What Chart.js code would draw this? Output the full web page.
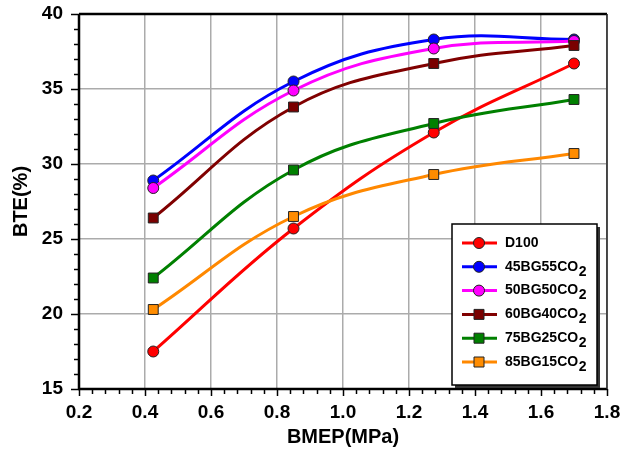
<!DOCTYPE html>
<html>
<head>
<meta charset="utf-8">
<script src="https://cdn.jsdelivr.net/npm/chart.js@4.4.1/dist/chart.umd.min.js"></script>
<style>
  html, body { margin: 0; padding: 0; background: #fff; }
  #wrap { width: 622px; height: 456px; }
</style>
</head>
<body>
<div id="wrap"><canvas id="bte-chart" width="622" height="456"></canvas></div>
<script>
// BMEP load points (MPa)
const bmep = [0.425, 0.85, 1.275, 1.7];

// BTE (%) for each fuel
const d100 = [17.5, 25.7, 32.1, 36.7];
const bg45 = [28.9, 35.5, 38.3, 38.3];
const bg50 = [28.4, 34.9, 37.7, 38.2];
const bg60 = [26.4, 33.8, 36.7, 37.9];
const bg75 = [22.4, 29.6, 32.7, 34.3];
const bg85 = [20.3, 26.5, 29.3, 30.7];

const seriesNames = ['D100', '45BG55CO2', '50BG50CO2', '60BG40CO2', '75BG25CO2', '85BG15CO2'];
const seriesValues = [d100, bg45, bg50, bg60, bg75, bg85];

// axis ranges
const xRange = [0.2, 1.8, 0.2];
const yRange = [15, 40, 5];

const lineColors = ['#ff0000', '#0000ff', '#ff00ff', '#800000', '#008000', '#ff8800'];
const markerColors = ['#ff0000', '#0000ff', '#ff00ff', '#7a0000', '#008000', '#ff8c00'];
const markerStyles = ['circle', 'circle', 'circle', 'rect', 'rect', 'rect'];

const FONT = '"Liberation Sans", Arial, sans-serif';

const datasets = seriesNames.map((name, i) => ({
    label: name,
    data: bmep.map((x, k) => ({ x: x, y: seriesValues[i][k] })),
    borderColor: lineColors[i],
    borderWidth: 3,
    backgroundColor: markerColors[i],
    pointBackgroundColor: markerColors[i],
    pointBorderColor: '#222',
    pointBorderWidth: 1,
    pointStyle: markerStyles[i],
    pointRadius: markerStyles[i] === 'rect' ? 7 : 5.5,
    tension: 0.4,
    order: -i
}));

// frame, minor ticks and the boxed legend
const decorations = {
    id: 'decorations',
    afterDraw(chart) {
        const ctx = chart.ctx;
        const area = chart.chartArea;
        const xs = chart.scales.x, ys = chart.scales.y;
        ctx.save();

        // ticks
        ctx.strokeStyle = '#000';
        ctx.lineWidth = 1.5;
        for (let i = 0; i <= 40; i++) {
            const px = Math.round(xs.getPixelForValue(0.2 + i * 0.04)) + 0.5;
            const len = i % 5 === 0 ? 7 : 5;
            ctx.beginPath();
            ctx.moveTo(px, area.bottom);
            ctx.lineTo(px, area.bottom + len);
            ctx.stroke();
        }
        for (let j = 0; j <= 25; j++) {
            const py = Math.round(ys.getPixelForValue(15 + j)) + 0.5;
            const len = j % 5 === 0 ? 8 : 5;
            ctx.beginPath();
            ctx.moveTo(area.left - len, py);
            ctx.lineTo(area.left, py);
            ctx.stroke();
        }

        // plot frame
        ctx.strokeStyle = '#000';
        ctx.lineWidth = 2.5;
        ctx.beginPath();
        ctx.moveTo(area.left, area.top);
        ctx.lineTo(area.right, area.top);
        ctx.moveTo(area.left, area.top);
        ctx.lineTo(area.left, area.bottom + 1);
        ctx.moveTo(area.left - 1, area.bottom);
        ctx.lineTo(area.right, area.bottom);
        ctx.stroke();
        ctx.lineWidth = 1.5;
        ctx.strokeStyle = '#222';
        ctx.beginPath();
        ctx.moveTo(area.right, area.top);
        ctx.lineTo(area.right, area.bottom);
        ctx.stroke();

        // legend box with a small drop shadow
        const bw = 145, bh = 161;
        const bx = area.right - 10 - bw;
        const by = area.bottom - 4 - bh;
        ctx.fillStyle = '#333';
        ctx.fillRect(bx + 3, by + 3, bw, bh);
        ctx.fillStyle = '#fff';
        ctx.fillRect(bx, by, bw, bh);
        ctx.strokeStyle = '#000';
        ctx.lineWidth = 1.5;
        ctx.strokeRect(bx, by, bw, bh);

        seriesNames.forEach((name, i) => {
            const cy = by + 19 + i * 23.8;
            const lx0 = bx + 10, lx1 = bx + 45, mx = bx + 27;
            ctx.strokeStyle = lineColors[i];
            ctx.lineWidth = 3;
            ctx.beginPath();
            ctx.moveTo(lx0, cy);
            ctx.lineTo(lx1, cy);
            ctx.stroke();
            ctx.fillStyle = markerColors[i];
            ctx.strokeStyle = '#222';
            ctx.lineWidth = 1;
            ctx.beginPath();
            if (markerStyles[i] === 'circle') {
                ctx.arc(mx, cy, 5.5, 0, Math.PI * 2);
            } else {
                ctx.rect(mx - 5, cy - 5, 10, 10);
            }
            ctx.fill();
            ctx.stroke();

            // label, trailing "2" of CO2 as subscript
            ctx.fillStyle = '#000';
            ctx.textBaseline = 'middle';
            ctx.textAlign = 'left';
            ctx.font = 'bold 14px ' + FONT;
            const sub = name.endsWith('CO2');
            const main = sub ? name.slice(0, -1) : name;
            ctx.fillText(main, bx + 53, cy);
            if (sub) {
                const w = ctx.measureText(main).width;
                ctx.fillText('2', bx + 53 + w + 0.5, cy + 5);
            }
        });
        ctx.restore();
    }
};

new Chart(document.getElementById('bte-chart'), {
    type: 'line',
    data: { datasets: datasets },
    options: {
        responsive: false,
        devicePixelRatio: 1,
        animation: false,
        layout: { padding: { top: 14, right: 15, left: 0, bottom: 0 } },
        plugins: {
            legend: { display: false },
            tooltip: { enabled: false }
        },
        scales: {
            x: {
                type: 'linear',
                min: xRange[0],
                max: xRange[1],
                afterFit(scale) {
                    scale.height = 67;
                    scale.paddingLeft = 0;
                    scale.paddingRight = 0;
                },
                ticks: {
                    stepSize: xRange[2],
                    padding: 12,
                    color: '#000',
                    font: { family: FONT, size: 19, weight: 'bold' },
                    callback: v => v.toFixed(1)
                },
                grid: { color: '#ababab', lineWidth: 1.5, drawTicks: false },
                border: { display: false },
                title: {
                    display: true,
                    text: 'BMEP(MPa)',
                    color: '#000',
                    font: { family: FONT, size: 20, weight: 'bold' },
                    padding: { top: 0, bottom: 7 }
                }
            },
            y: {
                min: yRange[0],
                max: yRange[1],
                afterFit(scale) {
                    scale.width = 79;
                    scale.paddingTop = 0;
                    scale.paddingBottom = 0;
                },
                ticks: {
                    stepSize: yRange[2],
                    padding: 16,
                    color: '#000',
                    font: { family: FONT, size: 19, weight: 'bold' }
                },
                grid: { color: '#ababab', lineWidth: 1.5, drawTicks: false },
                border: { display: false },
                title: {
                    display: true,
                    text: 'BTE(%)',
                    color: '#000',
                    font: { family: FONT, size: 20, weight: 'bold' },
                    padding: { top: 9, bottom: 0 }
                }
            }
        }
    },
    plugins: [decorations]
});
</script>
</body>
</html>
